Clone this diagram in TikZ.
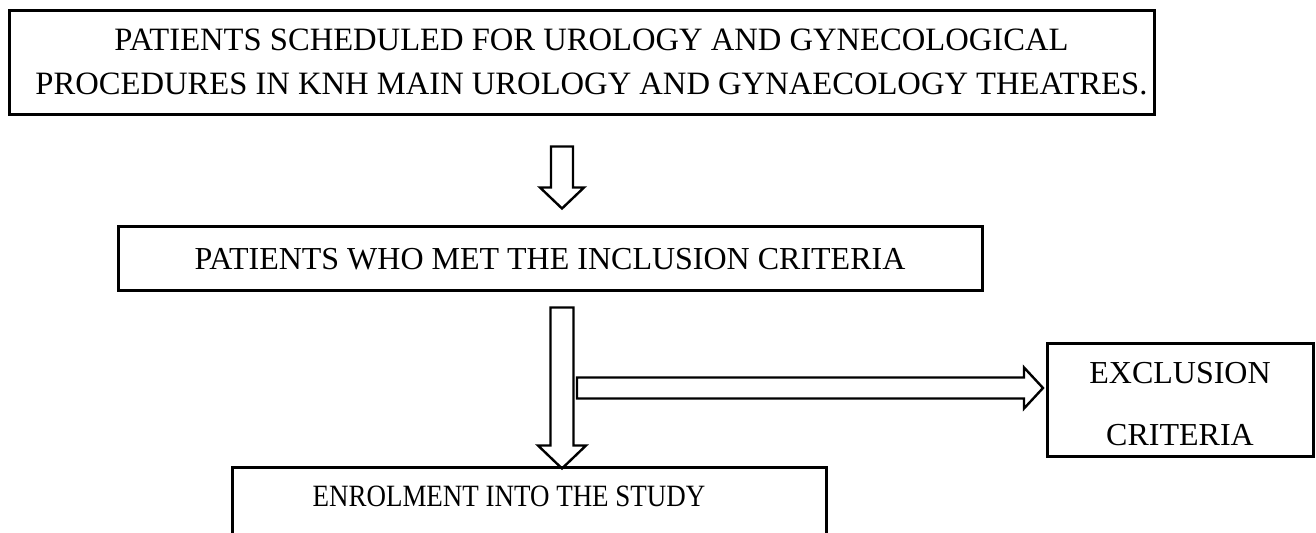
\documentclass[tikz,border=0pt]{standalone}
\usepackage{fontspec}
\setmainfont{Liberation Serif}
\usetikzlibrary{calc}

% hollow block arrows: #1 start, #2 length, #3 head length, #4 shaft half width, #5 head half width
\newcommand{\hollowdown}[5]{%
  \draw[hollow] ($(#1)+(-#4,0)$) -- ($(#1)+(-#4,#2-#3)$) -- ($(#1)+(-#5,#2-#3)$)
    -- ($(#1)+(0,#2)$) -- ($(#1)+(#5,#2-#3)$) -- ($(#1)+(#4,#2-#3)$) -- ($(#1)+(#4,0)$) -- cycle;}
\newcommand{\hollowright}[5]{%
  \draw[hollow] ($(#1)+(0,-#4)$) -- ($(#1)+(#2-#3,-#4)$) -- ($(#1)+(#2-#3,-#5)$)
    -- ($(#1)+(#2,0)$) -- ($(#1)+(#2-#3,#5)$) -- ($(#1)+(#2-#3,#4)$) -- ($(#1)+(0,#4)$) -- cycle;}

\begin{document}
\begin{tikzpicture}[x=0.5pt,y=-0.5pt,
  box/.style={draw, line width=1.5pt, align=center, inner sep=0pt,
    font=\fontsize{16}{21.7}\selectfont},
  boxtext/.style={inner sep=0pt, align=center},
  hollow/.style={draw, line width=1.2pt, line join=miter}]
  \useasboundingbox (0,0) rectangle (1316,533);

  \node[box, minimum width=572.5pt, minimum height=52pt] (sched) at (581.5,63) {};
  \node[boxtext, font=\fontsize{16.3}{21.9}\selectfont] (schedtext)
    at ($(sched.center)+(10,-1)$)
    {PATIENTS SCHEDULED FOR UROLOGY AND GYNECOLOGICAL\\
     PROCEDURES IN KNH MAIN UROLOGY AND GYNAECOLOGY THEATRES.};
  \node[box, minimum width=432pt, minimum height=32pt] (incl) at (550,259)
    {PATIENTS WHO MET THE INCLUSION CRITERIA};
  \node[box, minimum width=133pt, minimum height=56.5pt] (excl) at (1180,400.5) {};
  \node[boxtext, font=\fontsize{16}{31}\selectfont] (excltext)
    at ($(excl.center)+(0,4)$) {EXCLUSION\\ CRITERIA};
  \node[box, minimum width=297pt, minimum height=52pt] (enrol) at (529,520) {};
  \node[anchor=base, inner sep=0pt, font=\fontsize{15.5}{20}\selectfont] (enroltext)
    at ($(enrol.north)+(-20,40)$) {\scalebox{0.87}[1]{ENROLMENT INTO THE STUDY}};

  % arrows
  \coordinate (a1) at ($(sched.south)+(-19.5,30)$);
  \coordinate (a2) at ($(incl.south)+(12,15)$);
  \coordinate (a3) at ($(a2)+(15,80.5)$);
  \hollowdown{a1}{62}{21}{11}{22}
  \hollowdown{a2}{161}{23}{11.5}{24}
  \hollowright{a3}{466}{19}{10.5}{20.5}
\end{tikzpicture}
\end{document}
